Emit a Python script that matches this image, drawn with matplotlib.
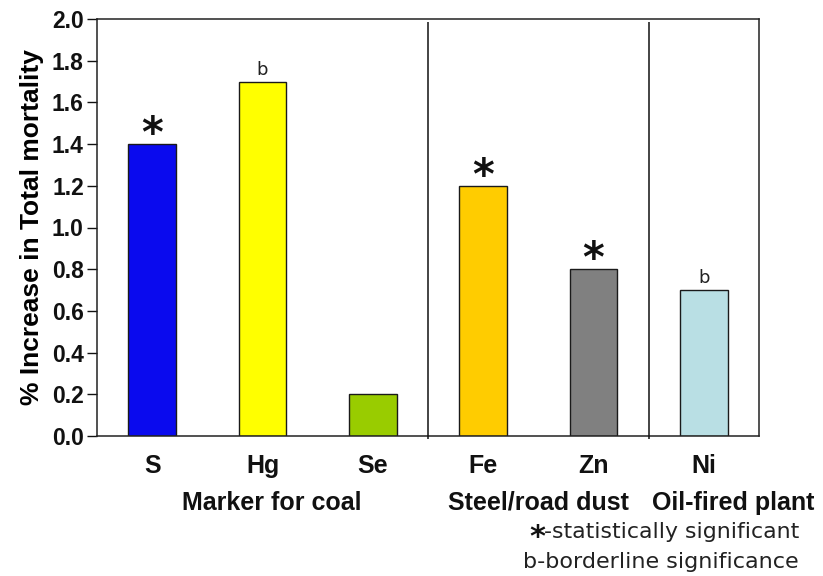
import matplotlib
matplotlib.use("Agg")
import matplotlib.pyplot as plt
import matplotlib.transforms as mtransforms

# element markers, their % increase in total mortality and significance flags
elements = ["S", "Hg", "Se", "Fe", "Zn", "Ni"]
increase = [1.4, 1.7, 0.2, 1.2, 0.8, 0.7]
flags = ["*", "b", "", "*", "*", "b"]
colors = ["#0a0aee", "#ffff00", "#99cc00", "#ffcc00", "#808080", "#b9dfe4"]

# source groups: label and the element positions they sit under
groups = ["Marker for coal", "Steel/road dust", "Oil-fired plant"]
group_x = [1.08, 3.5, 5.27]
dividers = [2.5, 4.5]

yticks = [0.0, 0.2, 0.4, 0.6, 0.8, 1.0, 1.2, 1.4, 1.6, 1.8, 2.0]

BOLD = "Liberation Sans"
THIN = "DejaVu Sans"

W, H = 823, 576
fig = plt.figure(figsize=(W / 100, H / 100), dpi=100)
ax = fig.add_axes([97 / W, 1 - 436 / H, (759 - 97) / W, (436 - 19) / H])

x = list(range(len(elements)))
ax.bar(x, increase, width=0.43, color=colors, edgecolor="#1a1a1a",
       linewidth=1.0, zorder=2)

ax.set_xlim(-0.5, len(elements) - 0.5)
ax.set_ylim(0, 2.0)
ax.set_yticks(yticks)
ax.set_yticklabels([f"{v:.1f}" for v in yticks], fontfamily=BOLD,
                   fontweight="bold", fontsize=16.5)
ax.set_xticks([])
ax.tick_params(axis="y", direction="out", length=7.5, width=1.0, pad=2,
               colors="#111111")
for sp in ax.spines.values():
    sp.set_linewidth(1.1)
    sp.set_color("#222222")

ax.set_ylabel("% Increase in Total mortality", fontfamily=BOLD,
              fontweight="bold", fontsize=19, labelpad=6)

# group dividers, running slightly past the x axis
ax.vlines(dividers, -0.012, 1.985, colors="#111111", linewidth=1.1,
          clip_on=False, zorder=3)

# significance marks above bars
for xi, v, f in zip(x, increase, flags):
    if f == "*":
        ax.annotate("*", (xi, v), xytext=(0, -2), textcoords="offset points",
                    ha="center", va="baseline", fontsize=30,
                    fontfamily=THIN, fontweight="bold", color="#111111")
    elif f == "b":
        ax.annotate("b", (xi, v), xytext=(0, 5), textcoords="offset points",
                    ha="center", va="baseline", fontsize=13,
                    fontfamily=THIN, color="#222222")

# category and group labels below the axis
tr = mtransforms.blended_transform_factory(ax.transData, fig.transFigure)
for xi, name in zip(x, elements):
    ax.text(xi, 1 - 473 / H, name, transform=tr, ha="center", va="baseline",
            fontfamily=BOLD, fontweight="bold", fontsize=18, color="#111111")
for gx, g in zip(group_x, groups):
    ax.text(gx, 1 - 510 / H, g, transform=tr, ha="center", va="baseline",
            fontfamily=BOLD, fontweight="bold", fontsize=18, color="#111111")

# footnote
fig.text(537 / W, 1 - 546 / H, "*", ha="center", va="baseline",
         fontfamily=THIN, fontweight="bold", fontsize=22, color="#111111")
fig.text(544 / W, 1 - 538 / H, "-statistically significant", ha="left",
         va="baseline", fontfamily=THIN, fontsize=15.8, color="#222222")
fig.text(523 / W, 1 - 568 / H, "b-borderline significance", ha="left",
         va="baseline", fontfamily=THIN, fontsize=16, color="#222222")

fig.savefig("out.png", dpi=100)
